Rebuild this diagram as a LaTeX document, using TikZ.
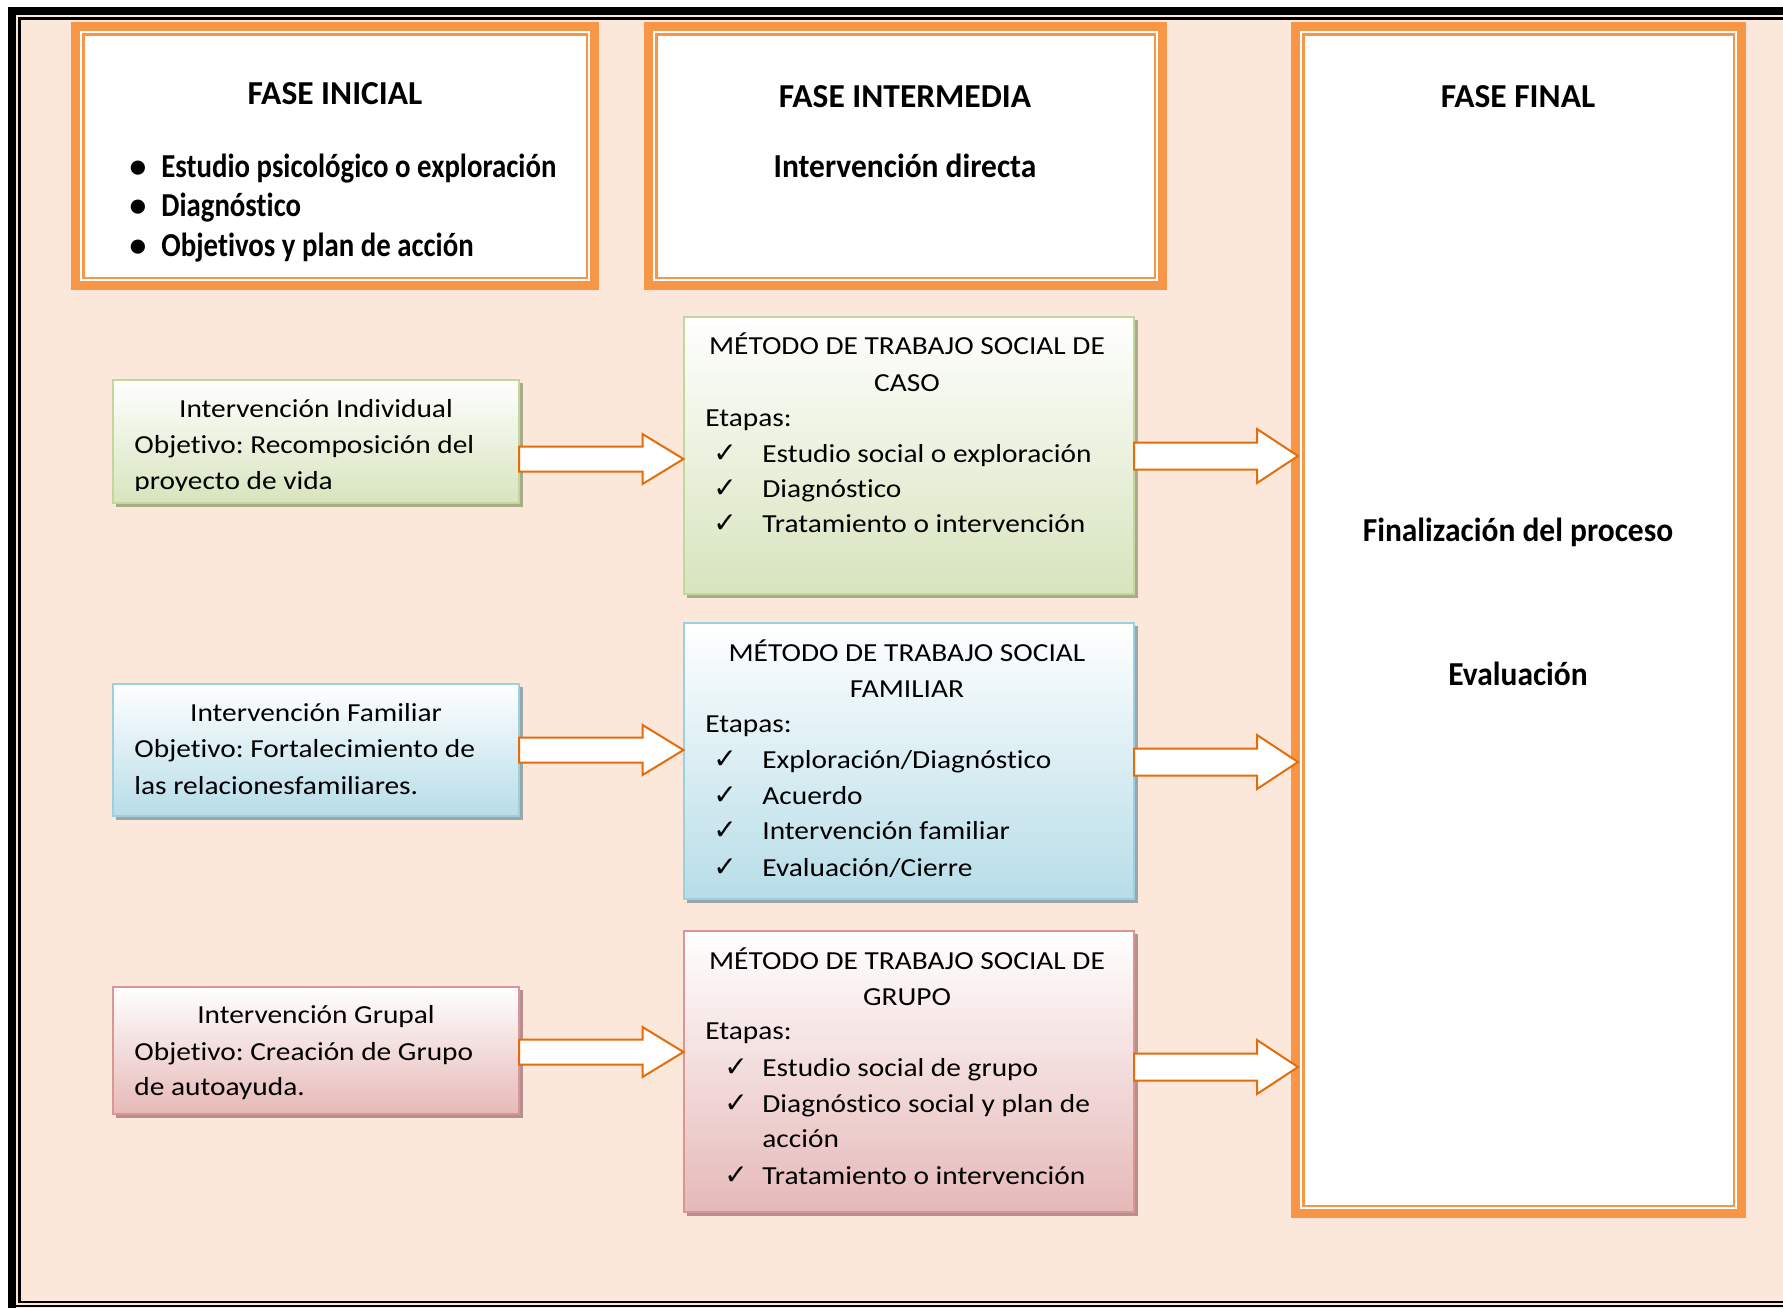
\documentclass[tikz,border=0pt]{standalone}
\usepackage{fontspec}
\setmainfont{Carlito}[FakeStretch=1.13, Ligatures=NoCommon]
\newfontfamily\headfont{Carlito}[Ligatures=NoCommon]
\newfontfamily\headnarrow{Carlito}[FakeStretch=0.94, Ligatures=NoCommon]
\newfontfamily\headbul{Carlito}[FakeStretch=0.86, Ligatures=NoCommon]
\newfontfamily\symfont{DejaVu Sans}
\usetikzlibrary{calc,fit}
\definecolor{peach}{HTML}{FCE8DA}
\definecolor{orng}{HTML}{F79646}
\definecolor{arrline}{HTML}{E46C0A}
\definecolor{gbot}{HTML}{D7E4BD}
\definecolor{gbrd}{HTML}{C3D69B}
\definecolor{gshd}{HTML}{A9AC8A}
\definecolor{bbot}{HTML}{B7DDE8}
\definecolor{bbrd}{HTML}{9CD0DF}
\definecolor{bshd}{HTML}{9AA7AA}
\definecolor{pbot}{HTML}{E6B9B8}
\definecolor{pbrd}{HTML}{D99694}
\definecolor{pshd}{HTML}{B59090}
\tikzset{
  phasebox/.style={draw=orng, line width=4.5pt, fill=white, inner sep=0pt, outer sep=0pt},
  phaseinner/.style={draw=orng, line width=1.2pt},
  colbox/.style 2 args={draw=#2, line width=1pt, top color=white, bottom color=#1, inner sep=0pt, outer sep=0pt},
  shd/.style={preaction={fill=#1, transform canvas={xshift=1.8pt,yshift=-1.8pt}}},
  body/.style={font=\frenchspacing\fontsize{13}{16}\selectfont, inner sep=0pt, text=black},
  head/.style={font=\headfont\fontsize{16.75}{20}\selectfont\bfseries, inner sep=0pt, text=black},
  headn/.style={font=\headnarrow\fontsize{16.75}{20}\selectfont\bfseries, inner sep=0pt, text=black},
  headb/.style={font=\headbul\fontsize{16.75}{20}\selectfont\bfseries, inner sep=0pt, text=black},
  chk/.style={font=\symfont\fontsize{14}{16}\selectfont, inner sep=0pt},
  fatarrow/.style={draw=arrline, line width=1pt, fill=white, line join=miter},
}
\newcommand\fatarr[4]{% start, end, half shaft, half head
  \path[fatarrow] ($(#1)+(0,-#3)$) -- ($(#2)+(-41,-#3)$) -- ($(#2)+(-41,-#4)$) -- (#2)
    -- ($(#2)+(-41,#4)$) -- ($(#2)+(-41,#3)$) -- ($(#1)+(0,#3)$) -- cycle;}
\begin{document}
\begin{tikzpicture}[x=0.5pt,y=-0.5pt]
\useasboundingbox (0,0) rectangle (1783,1308);
\fill[white] (0,0) rectangle (1783,1308);
\fill[peach] (8,7) rectangle (1783,1308);
% frame
\draw[black, line width=4pt] (12,1308) -- (12,11) -- (1783,11);
\draw[black, line width=1.2pt] (1783,18.5) -- (19.5,18.5) -- (19.5,1302) -- (1783,1302);
\draw[black, line width=0.8pt] (16,1306) -- (1783,1306);

% phase boxes
\node[phasebox, fit={(75.5,26.5) (594.5,285.5)}] (fi) {};
\node[phasebox, fit={(648.5,26.5) (1162.5,285.5)}] (fm) {};
\node[phasebox, fit={(1295.5,26.5) (1741.5,1213.5)}] (ff) {};
\foreach \b in {fi,fm,ff}{
  \draw[phaseinner] ($(\b.north west)+(7.8,7.8)$) rectangle ($(\b.south east)+(-7.8,-7.8)$);
}

% left boxes
\node[colbox={gbot}{gbrd}, shd=gshd, fit={(112.5,379.5) (519,503)}] (li) {};
\node[colbox={bbot}{bbrd}, shd=bshd, fit={(112.5,683.5) (519,816)}] (lf) {};
\node[colbox={pbot}{pbrd}, shd=pshd, fit={(112.5,986.5) (519,1114)}] (lg) {};

% middle boxes
\node[colbox={gbot}{gbrd}, shd=gshd, fit={(683.5,316.5) (1134,594)}] (mc) {};
\node[colbox={bbot}{bbrd}, shd=bshd, fit={(683.5,622.5) (1134,899)}] (mf) {};
\node[colbox={pbot}{pbrd}, shd=pshd, fit={(683.5,930.5) (1134,1212)}] (mg) {};

% arrows left -> middle
\coordinate (a1s) at (li.east |- 0,459);
\coordinate (a1e) at (mc.west |- 0,459);
\coordinate (a2s) at (lf.east |- 0,750);
\coordinate (a2e) at (mf.west |- 0,750);
\coordinate (a3s) at (lg.east |- 0,1052);
\coordinate (a3e) at (mg.west |- 0,1052);
\fatarr{a1s}{a1e}{12.5}{25}
\fatarr{a2s}{a2e}{12.5}{25}
\fatarr{a3s}{a3e}{12.5}{25}
% arrows middle -> final
\coordinate (b1s) at (mc.east |- 0,456);
\coordinate (b1e) at (1298,456);
\coordinate (b2s) at (mf.east |- 0,762);
\coordinate (b2e) at (1298,762);
\coordinate (b3s) at (mg.east |- 0,1067);
\coordinate (b3e) at (1298,1067);
\fatarr{b1s}{b1e}{13.5}{27}
\fatarr{b2s}{b2e}{13.5}{27}
\fatarr{b3s}{b3e}{13.5}{27}

% phase texts
\node[head, anchor=base] (t-fi) at (335,104) {FASE INICIAL};
\node[head, anchor=base] (d1) at (138,177) {\textbullet};
\node[head, anchor=base] (d2) at (138,216) {\textbullet};
\node[head, anchor=base] (d3) at (138,256) {\textbullet};
\node[headb, anchor=base west] (fi1) at (161,177) {Estudio psicológico o exploración};
\node[headb, anchor=base west] (fi2) at (161,216) {Diagnóstico};
\node[headb, anchor=base west] (fi3) at (161,256) {Objetivos y plan de acción};
\node[head, anchor=base] (t-fm) at (905,107) {FASE INTERMEDIA};
\node[headn, anchor=base] (fm1) at (905,177) {Intervención directa};
\node[head, anchor=base] (t-ff) at (1518,107) {FASE FINAL};
\node[headn, anchor=base] (ff1) at (1518,541) {Finalización del proceso};
\node[headn, anchor=base] (ff2) at (1518,685) {Evaluación};

% left box texts
\node[body, anchor=base] (li1) at (316,417) {Intervención Individual};
\node[body, anchor=base west] (li2) at (134,453) {Objetivo: Recomposición del};
\begin{scope}
\clip (112,380) rectangle (519,490.5);
\node[body, anchor=base west] (li3) at (134,489) {proyecto de vida};
\end{scope}
\node[body, anchor=base] (lf1) at (316,721) {Intervención Familiar};
\node[body, anchor=base west] (lf2) at (134,757) {Objetivo: Fortalecimiento de};
\node[body, anchor=base west] (lf3) at (134,794) {las relacionesfamiliares.};
\node[body, anchor=base] (lg1) at (316,1023) {Intervención Grupal};
\node[body, anchor=base west] (lg2) at (134,1060) {Objetivo: Creación de Grupo};
\node[body, anchor=base west] (lg3) at (134,1095) {de autoayuda.};

% middle: caso
\node[body, anchor=base] (mc1) at (907,354) {MÉTODO DE TRABAJO SOCIAL DE};
\node[body, anchor=base] (mc2) at (907,391) {CASO};
\node[body, anchor=base west] (mc3) at (705,426) {Etapas:};
\foreach \yy/\tx [count=\i] in {462/Estudio social o exploración, 497/Diagnóstico, 532/Tratamiento o intervención}{
  \node[chk, anchor=base] (mck\i) at (725,\yy) {✓};
  \node[body, anchor=base west] (mci\i) at (762,\yy) {\tx};
}
% middle: familiar
\node[body, anchor=base] (mf1) at (907,661) {MÉTODO DE TRABAJO SOCIAL};
\node[body, anchor=base] (mf2) at (907,697) {FAMILIAR};
\node[body, anchor=base west] (mf3) at (705,732) {Etapas:};
\foreach \yy/\tx [count=\i] in {768/Exploración\slash Diagnóstico, 804/Acuerdo, 839/Intervención familiar, 876/Evaluación\slash Cierre}{
  \node[chk, anchor=base] (mfk\i) at (725,\yy) {✓};
  \node[body, anchor=base west] (mfi\i) at (762,\yy) {\tx};
}
% middle: grupo
\node[body, anchor=base] (mg1) at (907,969) {MÉTODO DE TRABAJO SOCIAL DE};
\node[body, anchor=base] (mg2) at (907,1005) {GRUPO};
\node[body, anchor=base west] (mg3) at (705,1039) {Etapas:};
\node[chk, anchor=base] (mgk1) at (736,1076) {✓};
\node[body, anchor=base west] (mgi1) at (762,1076) {Estudio social de grupo};
\node[chk, anchor=base] (mgk2) at (736,1112) {✓};
\node[body, anchor=base west] (mgi2) at (762,1112) {Diagnóstico social y plan de};
\node[body, anchor=base west] (mgi2b) at (762,1147) {acción};
\node[chk, anchor=base] (mgk3) at (736,1184) {✓};
\node[body, anchor=base west] (mgi3) at (762,1184) {Tratamiento o intervención};
\end{tikzpicture}
\end{document}
